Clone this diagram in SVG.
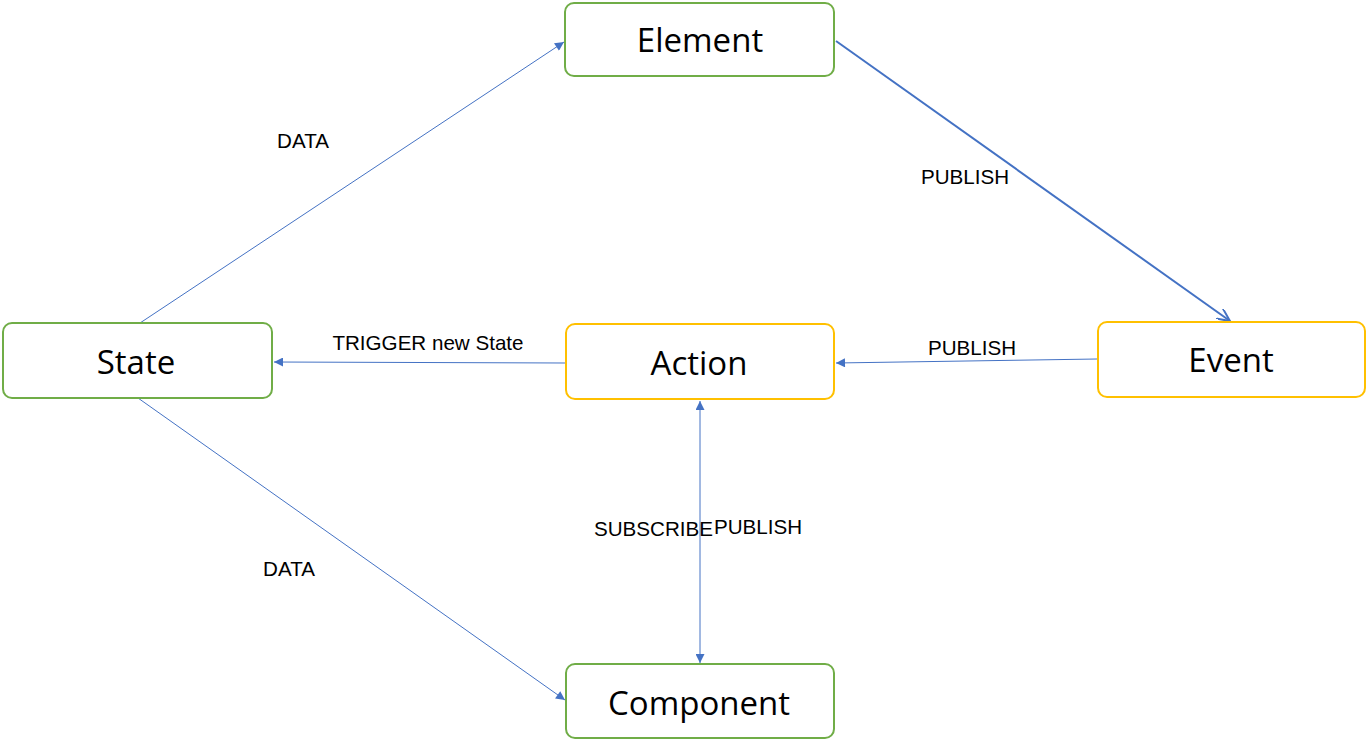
<svg xmlns="http://www.w3.org/2000/svg" width="1366" height="747" viewBox="0 0 1366 747">
<style>
.box{fill:#fff;stroke-width:2}
.g{stroke:#70AD47}
.y{stroke:#FFC000}
.nt{font-family:"Open Sans","Noto Sans",sans-serif;font-size:33px;fill:#000;text-anchor:middle}
.lb{font-family:"Liberation Sans",Arial,sans-serif;font-size:20.6px;fill:#000}
.ln{stroke:#4472C4;stroke-width:1;fill:none}
</style>
<defs>
<marker id="tri" viewBox="0 0 10 10" refX="10" refY="5" markerWidth="11" markerHeight="9" markerUnits="userSpaceOnUse" orient="auto">
<path d="M0,0 L10,5 L0,10 Z" fill="#4472C4"/>
</marker>
<marker id="triS" viewBox="0 0 10 10" refX="0" refY="5" markerWidth="11" markerHeight="9" markerUnits="userSpaceOnUse" orient="auto">
<path d="M10,0 L0,5 L10,10 Z" fill="#4472C4"/>
</marker>
<marker id="open" viewBox="0 0 14 12" refX="13" refY="6" markerWidth="14" markerHeight="12" markerUnits="userSpaceOnUse" orient="auto">
<path d="M0,0 L13,6 L0,12" fill="none" stroke="#4472C4" stroke-width="2"/>
</marker>
</defs>
<g id="connectors">
<line class="ln" x1="140" y1="323" x2="564" y2="42" marker-end="url(#tri)"/>
<line class="ln" x1="836" y1="41" x2="1230" y2="321" style="stroke-width:2" marker-end="url(#open)"/>
<line class="ln" x1="1097" y1="359" x2="836" y2="363" marker-end="url(#tri)"/>
<line class="ln" x1="565" y1="363" x2="274" y2="362" marker-end="url(#tri)"/>
<line class="ln" x1="700" y1="401" x2="700" y2="663" marker-start="url(#triS)" marker-end="url(#tri)"/>
<line class="ln" x1="138" y1="398" x2="565" y2="700" marker-end="url(#tri)"/>
<text class="lb" x="303" y="148" text-anchor="middle">DATA</text>
<text class="lb" x="965" y="184" text-anchor="middle">PUBLISH</text>
<text class="lb" x="428" y="350" text-anchor="middle">TRIGGER new State</text>
<text class="lb" x="972" y="355" text-anchor="middle">PUBLISH</text>
<text class="lb" x="713" y="536" text-anchor="end">SUBSCRIBE</text>
<text class="lb" x="714" y="534">PUBLISH</text>
<text class="lb" x="289" y="576" text-anchor="middle">DATA</text>
</g>
<g id="element">
<rect class="box g" x="565" y="3" width="269" height="73" rx="9"/>
<text class="nt" x="700" y="52">Element</text>
</g>
<g id="state">
<rect class="box g" x="3" y="323" width="269" height="75" rx="9"/>
<text class="nt" x="136" y="374">State</text>
</g>
<g id="action">
<rect class="box y" x="566" y="324" width="268" height="75" rx="9"/>
<text class="nt" x="699" y="375">Action</text>
</g>
<g id="event">
<rect class="box y" x="1098" y="322" width="267" height="75" rx="9"/>
<text class="nt" x="1231" y="372">Event</text>
</g>
<g id="component">
<rect class="box g" x="566" y="664" width="268" height="74" rx="9"/>
<text class="nt" x="699" y="715">Component</text>
</g>
</svg>
